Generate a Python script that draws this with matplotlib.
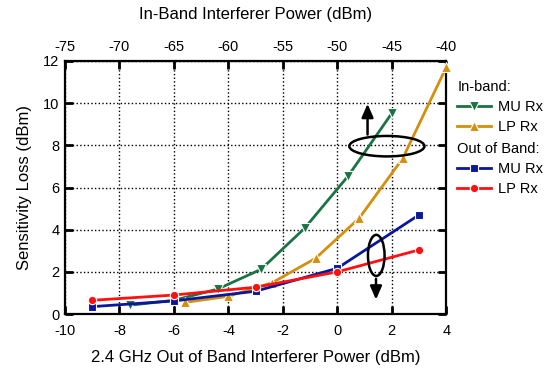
import numpy as np
import matplotlib.pyplot as plt
from matplotlib.patches import Ellipse

plt.rcParams['font.family'] = ['Liberation Sans', 'DejaVu Sans']
plt.rcParams['axes.unicode_minus'] = False

# in-band interferer power (dBm, top axis)
mu_in_x = [-69, -65, -61, -57, -53, -49, -45]
mu_in_y = [0.42, 0.65, 1.18, 2.12, 4.07, 6.55, 9.52]
lp_in_x = [-64, -60, -56, -52, -48, -44, -40]
lp_in_y = [0.55, 0.84, 1.48, 2.64, 4.54, 7.38, 11.7]

# out of band interferer power (dBm, bottom axis)
oob_x = [-9, -6, -3, 0, 3]
mu_oob_y = [0.35, 0.62, 1.08, 2.17, 4.70]
lp_oob_y = [0.65, 0.90, 1.27, 2.00, 3.04]

green = '#1b7343'
orange = '#d4900c'
blue = '#0a169c'
red = '#ff1010'


def oob_to_inband(x):
    return -75 + 2.5 * (np.asarray(x) + 10)


def inband_to_oob(p):
    return (np.asarray(p) + 75) / 2.5 - 10


fig = plt.figure(figsize=(5.59, 3.74), dpi=100)
ax = fig.add_axes([0.1163, 0.1604, 0.682, 0.6765])

kw = dict(lw=2, markeredgecolor='white', markeredgewidth=0.8, clip_on=False, zorder=3)
l1, = ax.plot(inband_to_oob(mu_in_x), mu_in_y, color=green, marker='v', ms=7.5, label='MU Rx', **kw)
l2, = ax.plot(inband_to_oob(lp_in_x), lp_in_y, color=orange, marker='^', ms=7.5, label='LP Rx', **kw)
l3, = ax.plot(oob_x, mu_oob_y, color=blue, marker='s', ms=5.5, label='MU Rx', **kw)
l4, = ax.plot(oob_x, lp_oob_y, color=red, marker='o', ms=6, label='LP Rx', **kw)

ax.set_xlim(-10, 4)
ax.set_ylim(0, 12)
ax.set_xticks(range(-10, 5, 2))
ax.set_yticks(range(0, 13, 2))
ax.grid(True, color='black', linestyle=':', linewidth=1)
for s in ax.spines.values():
    s.set_linewidth(1.6)
ax.tick_params(axis='x', direction='in', length=6, width=2, labelsize=10.5, pad=7)
ax.tick_params(axis='y', direction='in', length=6, width=2, labelsize=10.5, pad=4, right=True)
ax.set_xlabel('2.4 GHz Out of Band Interferer Power (dBm)', fontsize=12, labelpad=9)
ax.set_ylabel('Sensitivity Loss (dBm)', fontsize=12, labelpad=8)

top = ax.secondary_xaxis('top', functions=(oob_to_inband, inband_to_oob))
top.set_xticks(range(-75, -39, 5))
top.tick_params(direction='in', length=6, width=2, labelsize=10.5, pad=5)
top.set_xlabel('In-Band Interferer Power (dBm)', fontsize=12, labelpad=15)

# ellipses and arrows
ax.add_patch(Ellipse((1.82, 7.96), 2.76, 0.97, fill=False, lw=1.8, color='black', zorder=4))
ax.annotate('', xy=(1.11, 10.1), xytext=(1.11, 8.38),
            arrowprops=dict(arrowstyle='-|>,head_width=0.35,head_length=0.8', lw=1.8, color='black'))
ax.add_patch(Ellipse((1.43, 2.78), 0.61, 1.95, fill=False, lw=1.8, color='black', zorder=4))
ax.annotate('', xy=(1.42, 0.55), xytext=(1.42, 1.8),
            arrowprops=dict(arrowstyle='-|>,head_width=0.35,head_length=0.8', lw=1.8, color='black'))

lkw = dict(loc='upper left', frameon=False, fontsize=10.5, title_fontsize=10.5,
           alignment='left', handlelength=2.3, handletextpad=0.5, borderpad=0,
           labelspacing=0.42)
leg1 = ax.legend(handles=[l1, l2], title='In-band:', bbox_to_anchor=(1.01, 0.955), **lkw)
ax.add_artist(leg1)
ax.legend(handles=[l3, l4], title='Out of Band:', bbox_to_anchor=(1.01, 0.71), **lkw)

fig.savefig('out.png', dpi=100)
